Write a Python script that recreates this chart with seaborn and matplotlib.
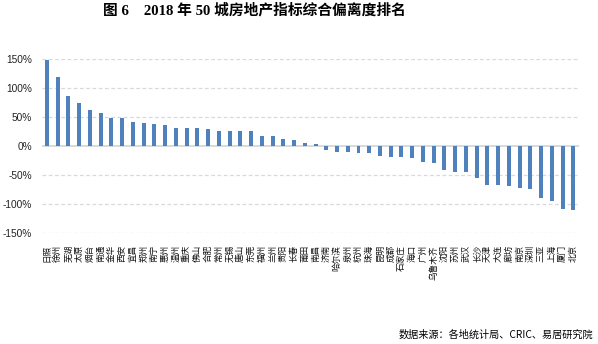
import matplotlib
matplotlib.use("Agg")
import matplotlib.pyplot as plt
import seaborn as sns
import pandas as pd

cities = [
    "日照", "徐州", "芜湖", "太原", "烟台", "南通", "金华", "西安", "宜昌", "郑州",
    "南宁", "惠州", "温州", "重庆", "佛山", "合肥", "常州", "无锡", "唐山", "东莞",
    "福州", "兰州", "贵阳", "长春", "莆田", "南昌", "济南", "哈尔滨", "泉州", "杭州",
    "珠海", "昆明", "成都", "石家庄", "海口", "广州", "乌鲁木齐", "沈阳", "苏州", "武汉",
    "长沙", "天津", "大连", "廊坊", "南京", "深圳", "三亚", "上海", "厦门", "北京",
]
deviation = [
    149, 119, 86.5, 74.5, 62.5, 57, 48.5, 48.5, 41.5, 40,
    38, 36.5, 31, 31, 31, 29.5, 26, 26, 26, 26,
    17.5, 17.5, 12, 10.5, 5.7, 4, -5.7, -9.2, -9.2, -11,
    -11, -16, -17.8, -17.8, -19.5, -26.4, -28.2, -40.2, -43.7, -43.7,
    -54.6, -66.7, -66.7, -67.8, -71.3, -73, -88.5, -93.7, -107.5, -109.2,
]
yticks = [-150, -100, -50, 0, 50, 100, 150]

df = pd.DataFrame({"city": cities, "value": deviation})

sns.set_theme(style="white")
plt.rcParams["font.family"] = ["Noto Sans CJK SC", "DejaVu Sans"]

fig = plt.figure(figsize=(5.98, 3.44), dpi=100)
ax = fig.add_axes([41.6 / 598, 1 - 233.3 / 344, (578.7 - 41.6) / 598, (233.3 - 59.3) / 344])

for t in yticks:
    if t == 0:
        continue
    ax.axhline(t, color="#D9D9D9", lw=0.9, ls=(0, (3, 2)), zorder=0)

sns.barplot(data=df, x="city", y="value", color="#4F81BD", saturation=1,
            width=0.37, ax=ax, zorder=2)
for p in ax.patches:
    p.set_antialiased(False)
    p.set_linewidth(0)
ax.axhline(0, color="#D9D9D9", lw=1.4, zorder=1)

ax.set_ylim(-150, 150)
ax.set_xlim(-0.5, len(cities) - 0.5)
ax.set_yticks(yticks)
ax.set_yticklabels([f"{t}%" for t in yticks], fontsize=7.3, color="#222222",
                   family=["Liberation Sans", "DejaVu Sans"])
ax.set_xticks(range(len(cities)))
ax.set_xticklabels(cities, rotation=90, fontsize=6.2, color="#111111",
                   va="top", ha="center")
ax.tick_params(axis="x", length=0, pad=8.5)
ax.tick_params(axis="y", length=0, pad=7)
ax.set_xlabel("")
ax.set_ylabel("")
for s in ax.spines.values():
    s.set_visible(False)

fig.text(254.5 / 598, 1 - 10 / 344, "图 6    2018 年 50 城房地产指标综合偏离度排名",
         ha="center", va="center", fontsize=10.6, fontweight="bold",
         family=["Liberation Serif", "Noto Sans CJK SC"], color="#000000")
fig.text(593 / 598, 1 - 335 / 344, "数据来源：各地统计局、CRIC、易居研究院",
         ha="right", va="center", fontsize=7.3, color="#000000")

fig.savefig("out.png", dpi=100, facecolor="white")
